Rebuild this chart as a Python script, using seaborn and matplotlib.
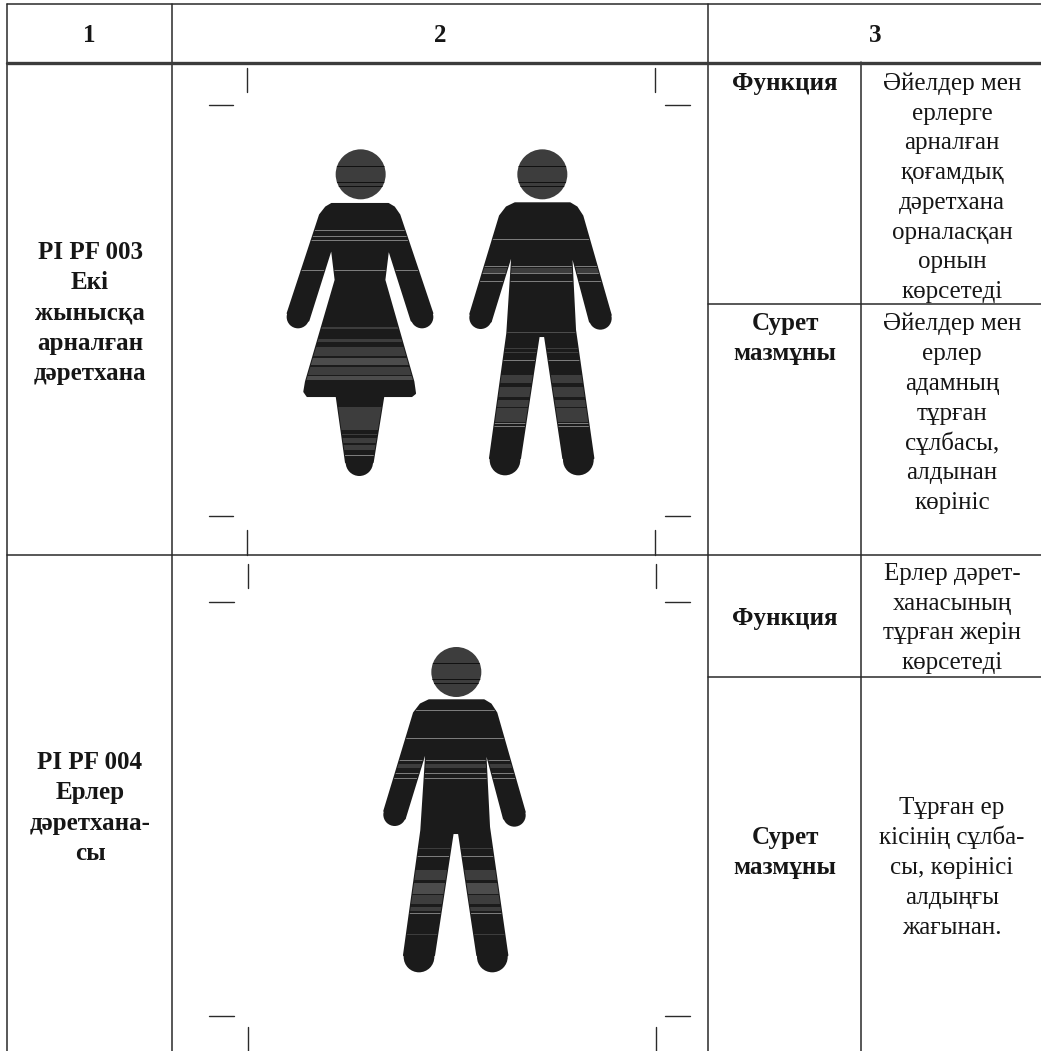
import matplotlib
matplotlib.use("Agg")
import matplotlib.pyplot as plt
from matplotlib.patches import Polygon, Circle
import pandas as pd
import seaborn as sns

W, H = 1041, 1051
INK = "#1b1b1b"
GREY = "#3d3d3d"
MID = "#4c4c4c"
SLIT = "#7c7c7c"

# table rules: (x0, y0, x1, y1)
table_rules = [
    (7, 4, 1041, 4), (7, 555, 1041, 555), (708, 304, 1041, 304), (708, 677, 1041, 677),
    (7, 4, 7, 1051), (172, 4, 172, 1051), (708, 4, 708, 1051), (861, 62, 861, 1051),
]
header_rules = [(7, 63, 1041, 63)]
crop_marks = [
    (247, 68, 247, 92), (655, 68, 655, 92), (209, 105, 233, 105), (665, 105, 690, 105),
    (209, 516, 233, 516), (665, 516, 690, 516), (247, 530, 247, 555), (655, 530, 655, 555),
    (248, 564, 248, 588), (656, 564, 656, 588), (209, 602, 234, 602), (665, 602, 690, 602),
    (209, 1016, 234, 1016), (665, 1016, 690, 1016), (248, 1027, 248, 1051), (656, 1027, 656, 1051),
]

# cell text
headers = [(89, 35, "1"), (440, 35, "2"), (875, 35, "3")]
col1_a = ["PI PF 003", "Екі", "жынысқа", "арналған", "дәретхана"]
col1_b = ["PI PF 004", "Ерлер", "дәретхана-", "сы"]
row_a_func = ["Әйелдер мен", "ерлерге", "арналған", "қоғамдық", "дәретхана", "орналасқан", "орнын", "көрсетеді"]
row_a_desc = ["Әйелдер мен", "ерлер", "адамның", "тұрған", "сұлбасы,", "алдынан", "көрініс"]
row_b_func = ["Ерлер дәрет-", "ханасының", "тұрған жерін", "көрсетеді"]
row_b_desc = ["Тұрған ер", "кісінің сұлба-", "сы, көрінісі", "алдыңғы", "жағынан."]
label_func = ["Функция"]
label_desc = ["Сурет", "мазмұны"]

# pictogram outlines, in reference pixels x3 relative to (270, 130)
woman_body = [(185,222),(355,222),(372,232),(388,255),(487,550),(425,572),(355,352),(343,450),
              (430,755),(435,790),(425,798),(340,798),(308,997),(228,997),(200,798),(112,798),
              (103,785),(108,755),(197,450),(185,350),(115,572),(53,550),(150,255),(168,232)]
woman_round = [(272,133,75,GREY),(84,561,34,INK),(456,561,34,INK),(268,997,41,INK)]
man_body = [(735,220),(900,220),(920,232),(937,258),(1022,555),(960,575),(903,360),(915,600),
            (970,985),(880,985),(825,618),(806,618),(750,985),(660,985),(712,610),(728,360),
            (662,575),(601,552),(690,258),(710,232)]
man_round = [(817,133,75,GREY),(632,563,34,INK),(991,565,34,INK),(705,990,46,INK),(925,990,46,INK)]
man2_round = [(817,135,75,GREY),(632,563,34,INK),(991,565,34,INK),(705,990,46,INK),(925,990,46,INK)]
# stripes: (y0, y1, colour)
woman_bands = [(300,303,SLIT),(318,320,SLIT),(330,332,SLIT),(420,423,SLIT),
               (592,598,GREY),(628,636,GREY),(650,678,GREY),(685,705,MID),(710,735,GREY),(738,750,MID),
               (830,900,GREY),(912,916,GREY),(925,940,GREY),(945,960,GREY),(975,978,SLIT)]
man_bands = [(327,329,SLIT),(408,411,SLIT),(413,428,GREY),(430,433,SLIT),(453,456,SLIT),(605,608,MID),
             (655,658,GREY),(665,668,GREY),(690,693,SLIT),(735,760,GREY),(770,800,GREY),(810,830,GREY),
             (835,875,GREY),(880,883,SLIT),(888,891,SLIT)]
man2_bands = [(249,251,SLIT),(334,336,SLIT),(399,401,SLIT),(410,424,GREY),(439,441,SLIT),(454,456,SLIT),
              (664,666,GREY),(687,689,SLIT),(729,760,GREY),(768,800,MID),(805,832,GREY),(840,852,GREY),
              (859,861,SLIT),(884,886,SLIT),(921,923,GREY)]
head_dark = [(108,112),(155,158),(168,172)]

sns.set_theme(style="white")
plt.rcParams["font.family"] = ["Liberation Serif", "DejaVu Serif"]
fig = plt.figure(figsize=(W / 100, H / 100), dpi=100, facecolor="white")
ax = fig.add_axes([0, 0, 1, 1])


def rules(data, lw, color="#2a2a2a"):
    rows = []
    for i, (x0, y0, x1, y1) in enumerate(data):
        rows += [{"x": x0, "y": y0, "r": i}, {"x": x1, "y": y1, "r": i}]
    sns.lineplot(data=pd.DataFrame(rows), x="x", y="y", units="r", estimator=None, sort=False,
                 color=color, lw=lw, ax=ax, legend=False)


rules(table_rules, 1.1)
rules(header_rules, 2.4, "#3c3c3c")
rules(crop_marks, 1.0)


def figure(body, rounds, bands, dx, dy):
    page = lambda x, y: (270 + x / 3 + dx, 130 + y / 3 + dy)
    poly = Polygon([page(*p) for p in body], closed=True, fc=INK, ec=INK, lw=1.5, joinstyle="round", zorder=3)
    ax.add_patch(poly)
    xs = [page(*p)[0] for p in body]
    for y0, y1, c in bands:
        span = ax.fill_between([min(xs), max(xs)], page(0, y0)[1], page(0, y1)[1], color=c, lw=0, zorder=4)
        span.set_clip_path(poly)
    for x, y, r, c in rounds:
        cx, cy = page(x, y)
        circ = Circle((cx, cy), r / 3, fc=c, ec="none", zorder=3)
        ax.add_patch(circ)
        if c == GREY:
            for y0, y1 in head_dark:
                s = ax.fill_between([cx - 26, cx + 26], page(0, y0)[1], page(0, y1)[1], color="#111111", lw=0, zorder=4)
                s.set_clip_path(circ)


figure(woman_body, woman_round, woman_bands, 0, 0)
figure(man_body, man_round, man_bands, 0, 0)
figure(man_body, man2_round, man2_bands, -86, 497)


def block(x, y0, lines, bold=False, step=29.9):
    for i, t in enumerate(lines):
        ax.text(x, y0 + 7 + i * step, t, ha="center", va="baseline", fontsize=18, color="#161616",
                fontweight="bold" if bold else "normal", zorder=5)


for x, y, t in headers:
    block(x, y, [t], bold=True)
block(90, 252, col1_a, bold=True, step=30.2)
block(90, 762, col1_b, bold=True, step=30.3)
block(785, 83, label_func, bold=True)
block(785, 323, label_desc, bold=True)
block(785, 618, label_func, bold=True)
block(785, 837, label_desc, bold=True)
block(952, 83, row_a_func, step=29.7)
block(952, 323, row_a_desc)
block(952, 573, row_b_func, step=29.7)
block(952, 807, row_b_desc)

ax.set_xlim(0, W)
ax.set_ylim(H, 0)
ax.set_xlabel("")
ax.set_ylabel("")
ax.axis("off")
fig.savefig("out.png", dpi=100, facecolor="white")
